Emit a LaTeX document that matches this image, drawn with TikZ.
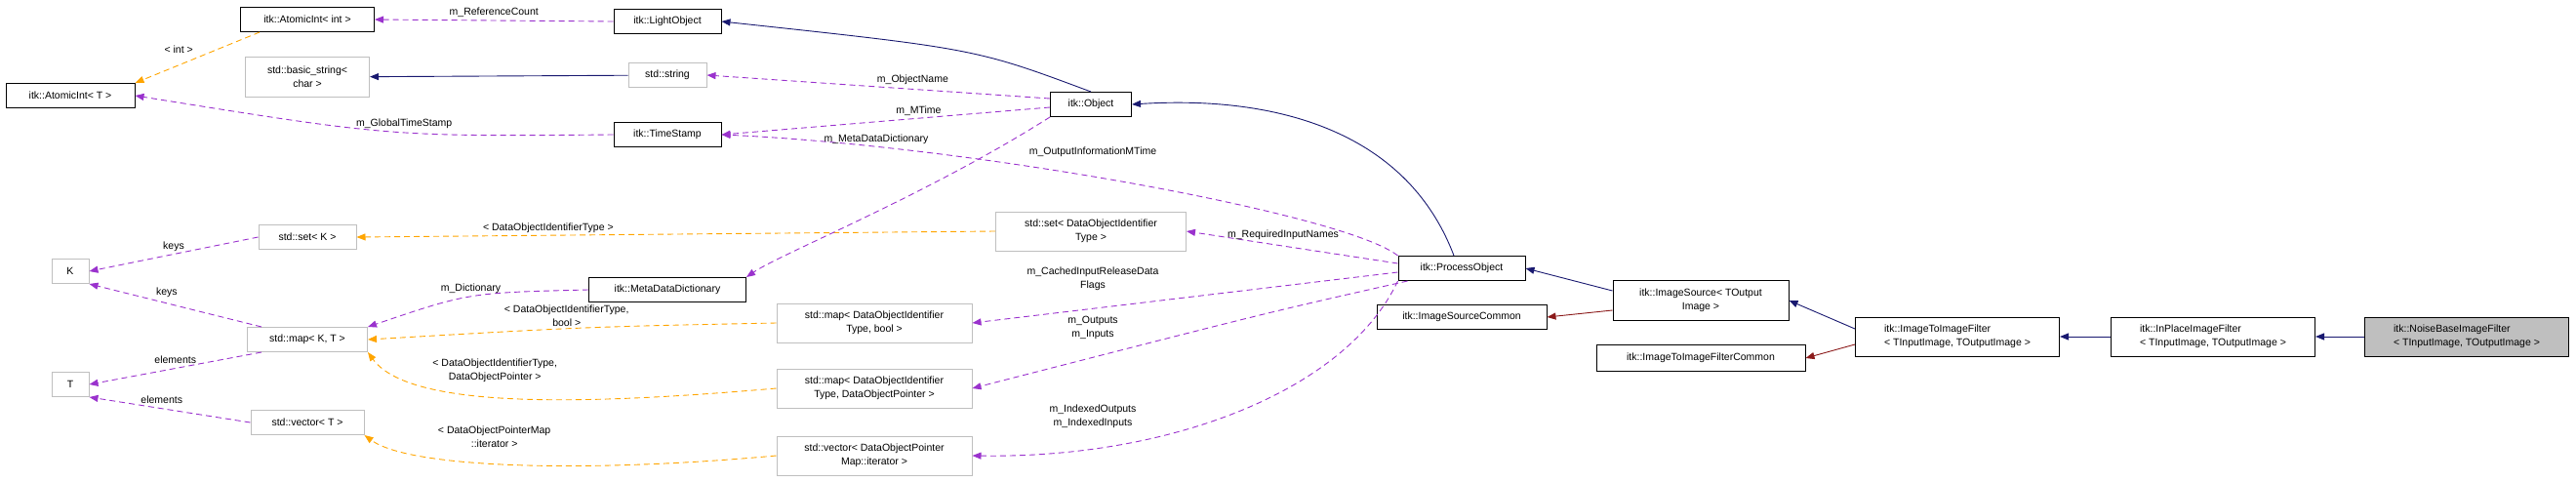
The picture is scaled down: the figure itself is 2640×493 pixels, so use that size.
\documentclass[tikz,border=0pt]{standalone}
\usepackage{fontspec}
\setmainfont{Liberation Sans}
\usetikzlibrary{arrows.meta}
\definecolor{pur}{HTML}{9A32CD}
\definecolor{org}{HTML}{FFA500}
\definecolor{nav}{HTML}{191970}
\definecolor{drd}{HTML}{8B1A1A}
\definecolor{gb}{HTML}{BFBFBF}
\begin{document}
\begin{tikzpicture}[x=1pt,y=-1pt,
  every node/.style={font=\fontsize{10.5}{14}\selectfont},
  box/.style={draw=black,line width=1pt,align=center,minimum height=25pt,inner sep=2pt},
  gbox/.style={draw=gb,line width=1pt,align=center,minimum height=25pt,inner sep=2pt},
  lbox/.style={draw=black,line width=1pt,align=left,minimum height=40pt,minimum width=209pt,inner sep=2pt},
  tip/.style={-{Triangle[length=9pt,width=7pt]}},
  use/.style={tip,draw=pur,dashed,line width=0.9pt,dash pattern=on 6pt off 4pt},
  tpl/.style={tip,draw=org,dashed,line width=0.9pt,dash pattern=on 6pt off 4pt},
  inh/.style={tip,draw=nav,line width=0.9pt},
  prv/.style={tip,draw=drd,line width=0.9pt},
  lab/.style={align=center,inner sep=0pt}]
\useasboundingbox (0,0) rectangle (2640,493);
\node[box,minimum width=132pt] (ait) at (72,98) {itk::AtomicInt< T >};
\node[box,minimum width=137pt] (aii) at (315,20) {itk::AtomicInt< int >};
\node[box,minimum width=110pt] (lo) at (684,22) {itk::LightObject};
\node[gbox,minimum width=127pt,minimum height=41pt] (bs) at (315,79) {std::basic\_string<\\char >};
\node[gbox,minimum width=80pt] (ss) at (684,77) {std::string};
\node[box,minimum width=110pt] (ts) at (684,138) {itk::TimeStamp};
\node[box,minimum width=83pt] (obj) at (1118,107) {itk::Object};
\node[gbox,minimum width=100pt] (setk) at (315,243) {std::set< K >};
\node[gbox,minimum width=38pt] (K) at (72,278) {K};
\node[box,minimum width=161pt] (mdd) at (684,297) {itk::MetaDataDictionary};
\node[gbox,minimum width=123pt] (mapkt) at (315,348) {std::map< K, T >};
\node[gbox,minimum width=38pt] (T) at (72,394) {T};
\node[gbox,minimum width=116pt] (vect) at (315,433) {std::vector< T >};
\node[gbox,minimum width=195pt,minimum height=40pt] (setd) at (1118,237) {std::set< DataObjectIdentifier\\Type >};
\node[gbox,minimum width=200pt,minimum height=40pt] (mapb) at (896,331) {std::map< DataObjectIdentifier\\Type, bool >};
\node[gbox,minimum width=200pt,minimum height=40pt] (mapp) at (896,398) {std::map< DataObjectIdentifier\\Type, DataObjectPointer >};
\node[gbox,minimum width=200pt,minimum height=40pt] (vecd) at (896,467) {std::vector< DataObjectPointer\\Map::iterator >};
\node[box,minimum width=130pt] (po) at (1498,275) {itk::ProcessObject};
\node[box,minimum width=174pt] (isc) at (1498,325) {itk::ImageSourceCommon};
\node[box,minimum width=180pt,minimum height=41pt] (is) at (1743,308) {itk::ImageSource< TOutput\\Image >};
\node[box,minimum width=214pt,minimum height=27pt] (itic) at (1743,367) {itk::ImageToImageFilterCommon};
\node[lbox] (iti) at (2006,345) {itk::ImageToImageFilter\\< TInputImage, TOutputImage >};
\node[lbox] (ip) at (2268,345) {itk::InPlaceImageFilter\\< TInputImage, TOutputImage >};
\node[lbox,fill=gb] (nb) at (2528,345) {itk::NoiseBaseImageFilter\\< TInputImage, TOutputImage >};
% inheritance
\draw[inh] (obj.north) .. controls (1000,50) .. (lo.east);
\draw[inh] (ss) -- (bs);
\draw[inh] (po.north) ++(-8,0) .. controls (1440,130) and (1300,98) .. (obj.east);
\draw[inh] (is.west) ++(0,-10) -- (po.east);
\draw[inh] (iti.west) ++(0,-8) -- (is.east);
\draw[inh] (ip) -- (iti);
\draw[inh] (nb) -- (ip);
\draw[prv] (is.west) ++(0,10) -- (isc.east);
\draw[prv] (iti.west) ++(0,8) -- (itic.east);
% templates
\draw[tpl] (aii.south west) ++(20,0) -- node[lab,above left=4pt] {< int >} (ait.north east);
\draw[tpl] (setd.west) -- node[lab,pos=0.7,above=2pt] {< DataObjectIdentifierType >} (setk.east);
\draw[tpl] (mapb.west) .. controls (600,335) .. node[lab,pos=0.55,above=2pt] {< DataObjectIdentifierType,\\bool >} (mapkt.east);
\draw[tpl] (mapp.west) .. controls (600,415) and (420,420) .. node[lab,pos=0.55,above=14pt] {< DataObjectIdentifierType,\\DataObjectPointer >} (mapkt.south east);
\draw[tpl] (vecd.west) .. controls (600,485) and (420,480) .. node[lab,pos=0.55,above=16pt] {< DataObjectPointerMap\\::iterator >} (vect.south east);
% usage
\draw[use] (lo.west) -- node[lab,above=3pt] {m\_ReferenceCount} (aii.east);
\draw[use] (ts.west) .. controls (400,140) .. node[lab,pos=0.45,above=4pt] {m\_GlobalTimeStamp} (ait.east);
\draw[use] (obj.west) ++(0,-6) -- node[lab,pos=0.4,above=4pt] {m\_ObjectName} (ss.east);
\draw[use] (obj.west) ++(0,3) -- node[lab,pos=0.4,above=2pt] {m\_MTime} (ts.east);
\draw[use] (po.north west) .. controls (1380,220) and (1000,150) .. (ts.east);
\node[lab] at (1120,156) {m\_OutputInformationMTime};
\draw[use] (obj.south west) .. controls (950,200) and (800,260) .. (mdd.north east);
\node[lab] at (898,143) {m\_MetaDataDictionary};
\draw[use] (mdd.west) .. controls (480,300) .. node[lab,pos=0.5,above=3pt] {m\_Dictionary} (mapkt.north east);
\draw[use] (setk.west) -- node[lab,above=2pt] {keys} (K.east);
\draw[use] (mapkt.north west) ++(15,0) -- node[lab,pos=0.55,above=6pt] {keys} (K.south east);
\draw[use] (mapkt.south west) ++(15,0) -- node[lab,pos=0.5,above=4pt] {elements} (T.east);
\draw[use] (vect.west) -- node[lab,pos=0.55,above=5pt] {elements} (T.south east);
\draw[use] (po.west) ++(0,-5) -- (setd.east);
\node[lab] at (1315,241) {m\_RequiredInputNames};
\draw[use] (po.west) ++(0,4) -- (mapb.east);
\node[lab] at (1120,286) {m\_CachedInputReleaseData\\Flags};
\draw[use] (po.south west) ++(10,0) .. controls (1300,320) .. (mapp.east);
\node[lab] at (1120,336) {m\_Outputs\\m\_Inputs};
\draw[use] (po.south west) .. controls (1380,400) and (1200,470) .. (vecd.east);
\node[lab] at (1120,427) {m\_IndexedOutputs\\m\_IndexedInputs};
\end{tikzpicture}
\end{document}
